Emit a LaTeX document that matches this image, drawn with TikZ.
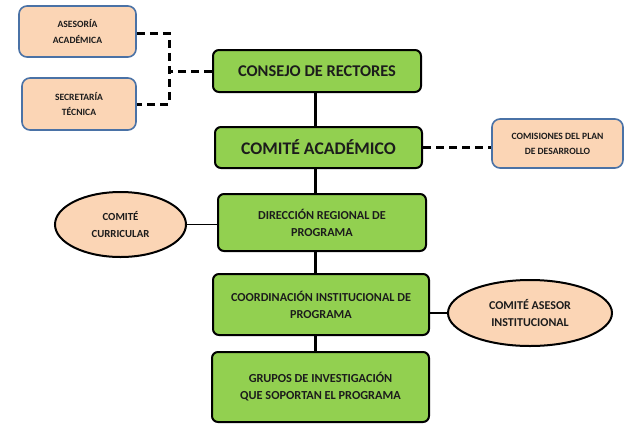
\documentclass[tikz,border=0pt]{standalone}
\usepackage{fontspec}
\setmainfont{Carlito}
\usetikzlibrary{shapes.geometric,calc}
\definecolor{gfill}{HTML}{92D050}
\definecolor{pfill}{HTML}{FBD5B5}
\definecolor{pborder}{HTML}{4A72A6}
\definecolor{txt}{HTML}{1C1C1C}
\tikzset{
  greenbox/.style={draw=black, line width=2pt, fill=gfill, rounded corners=6pt, align=center, text=txt, inner sep=0pt},
  peachbox/.style={draw=pborder, line width=1.6pt, fill=pfill, rounded corners=8pt, align=center, text=txt, inner sep=0pt},
  peachell/.style={ellipse, draw=black, line width=2pt, fill=pfill, align=center, text=txt, inner sep=0pt},
  solidlink/.style={line width=3pt, black},
  thinlink/.style={line width=1.8pt, black},
  dashlink/.style={line width=3pt, black, dash pattern=on 8pt off 5pt},
}
\begin{document}
\begin{tikzpicture}[x=1pt,y=-1pt]
\useasboundingbox (0,0) rectangle (627,424);
\node[peachbox, minimum width=117pt, minimum height=51pt, font=\bfseries\fontsize{9.6}{15.5}\selectfont] (ase) at (77.5,31.5) {ASESORÍA\\ACADÉMICA};
\node[peachbox, minimum width=114pt, minimum height=52pt, font=\bfseries\fontsize{9.6}{15.5}\selectfont] (sec) at (79,104) {SECRETARÍA\\TÉCNICA};
\node[greenbox, minimum width=208pt, minimum height=42pt, font=\bfseries\fontsize{16.4}{19}\selectfont] (cr) at (317,71) {CONSEJO DE RECTORES};
\node[greenbox, minimum width=207pt, minimum height=41pt, font=\bfseries\fontsize{17.7}{20}\selectfont] (ca) at (318.5,147.5) {COMITÉ ACADÉMICO};
\node[peachbox, minimum width=131pt, minimum height=49pt, font=\bfseries\fontsize{9.6}{15}\selectfont] (com) at (557.5,143.5) {COMISIONES DEL PLAN\\DE DESARROLLO};
\node[greenbox, minimum width=208pt, minimum height=57pt, font=\bfseries\fontsize{12.2}{17}\selectfont] (dr) at (322,222.5) {DIRECCIÓN REGIONAL DE\\PROGRAMA};
\node[peachell, minimum width=131pt, minimum height=65pt, font=\bfseries\fontsize{10.8}{17}\selectfont] (cc) at (120.5,224.5) {COMITÉ\\CURRICULAR};
\node[greenbox, minimum width=216pt, minimum height=61pt, font=\bfseries\fontsize{12.2}{17}\selectfont] (ci) at (321,304.5) {COORDINACIÓN INSTITUCIONAL DE\\PROGRAMA};
\node[peachell, minimum width=164pt, minimum height=66pt, font=\bfseries\fontsize{12}{17}\selectfont] (cas) at (530,313) {COMITÉ ASESOR\\INSTITUCIONAL};
\node[greenbox, minimum width=217pt, minimum height=70pt, font=\bfseries\fontsize{12.3}{17}\selectfont] (gr) at (320.5,387) {GRUPOS DE INVESTIGACIÓN\\QUE SOPORTAN EL PROGRAMA};
\coordinate (sp) at (315,0);
\coordinate (jx) at (169,0);
\draw[solidlink] (cr.south -| sp) -- (ca.north -| sp);
\draw[solidlink] (ca.south -| sp) -- (dr.north -| sp);
\draw[solidlink] (dr.south -| sp) -- (ci.north -| sp);
\draw[solidlink] (ci.south -| sp) -- (gr.north -| sp);
\draw[thinlink] (cc.east) -- (cc.east -| dr.west);
\draw[thinlink] (cas.west) -- (cas.west -| ci.east);
\draw[dashlink] (ca.east) -- (ca.east -| com.west);
\draw[dashlink] ($(ase.east)+(0,1.5)$) -| (jx |- sec.east) -- (sec.east);
\draw[dashlink] (cr.west) -- (cr.west -| jx);
\end{tikzpicture}
\end{document}
